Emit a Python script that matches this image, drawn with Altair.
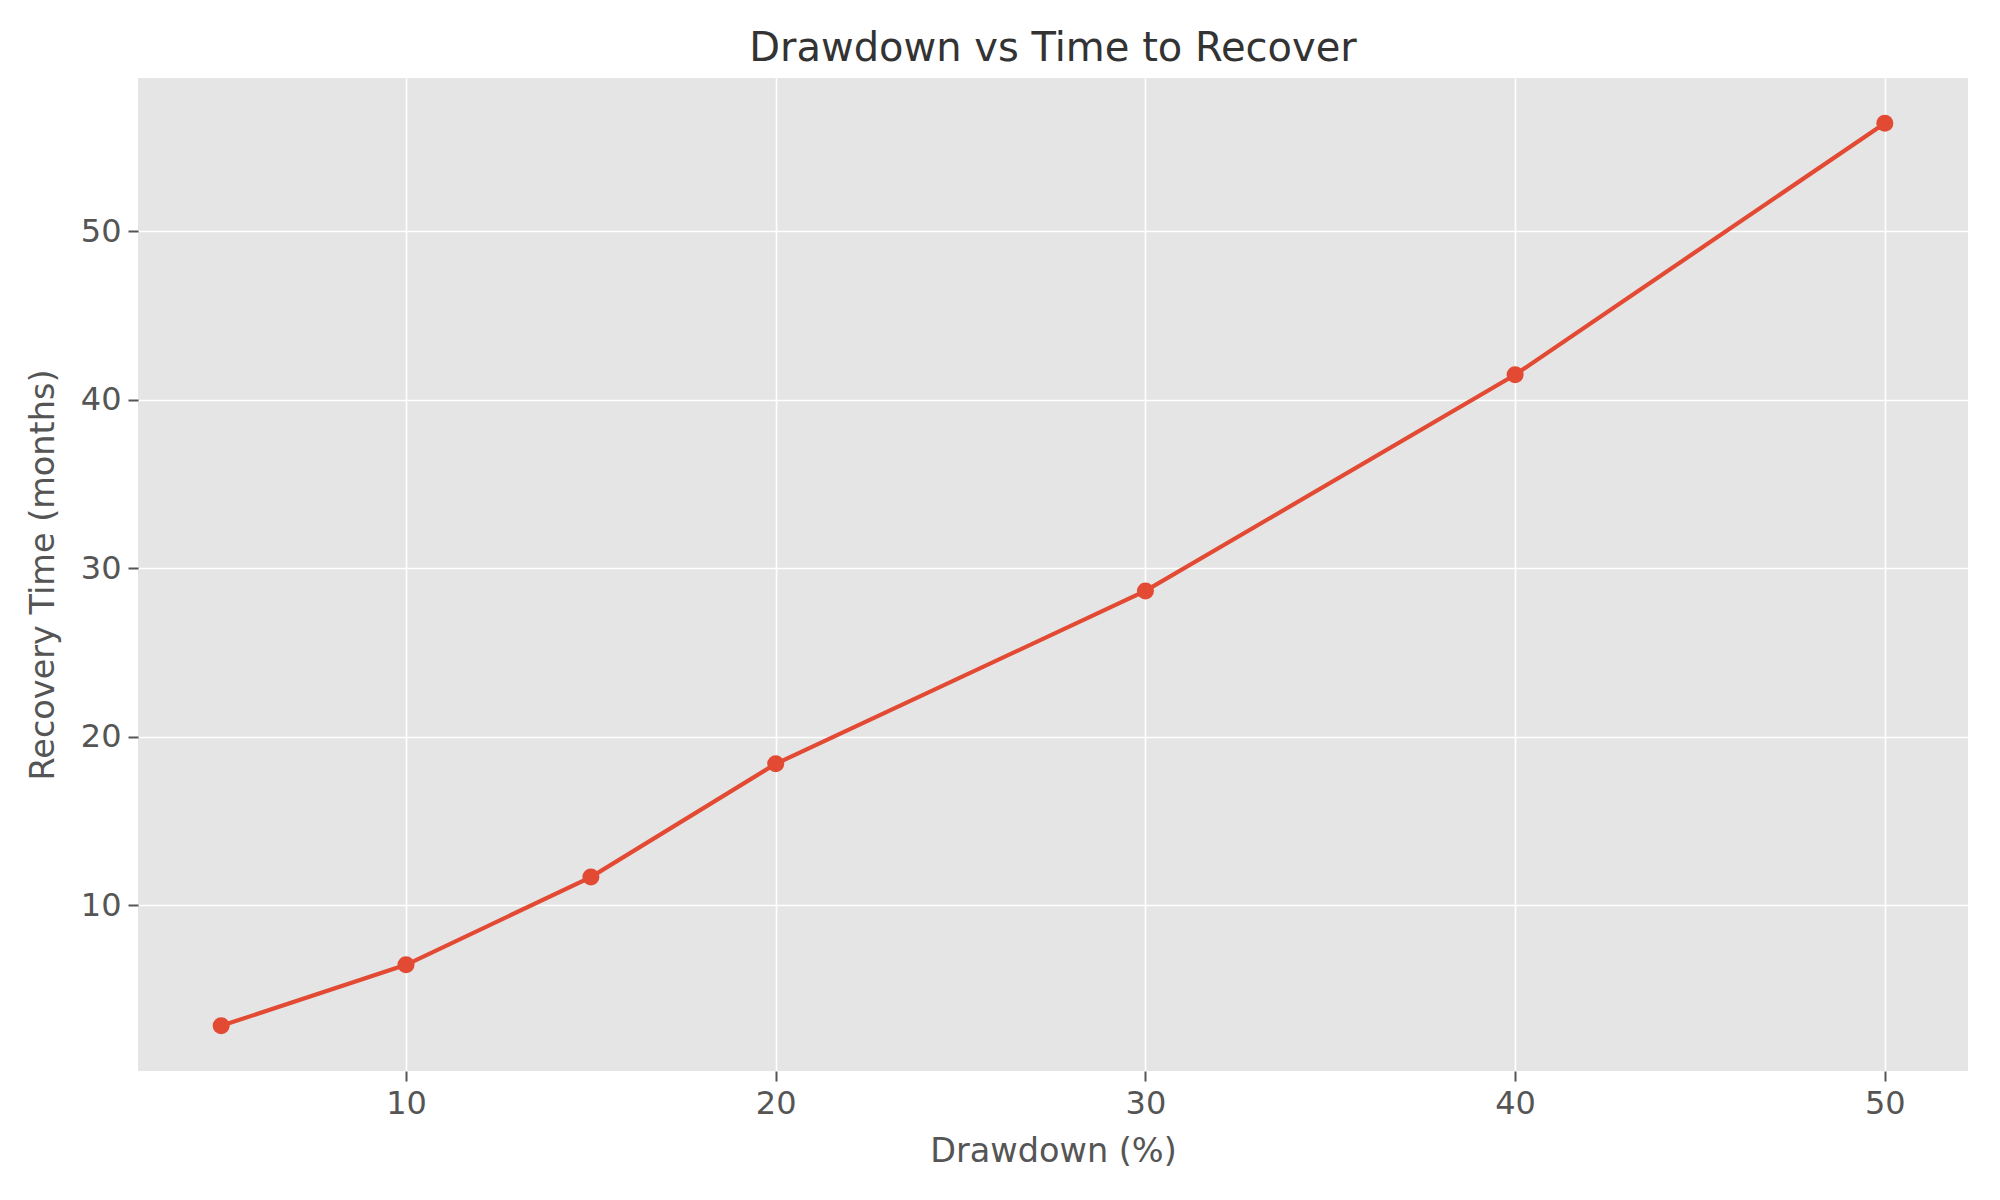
import altair as alt
import pandas as pd

drawdown = [5, 10, 15, 20, 30, 40, 50]
recovery = [2.83, 6.45, 11.66, 18.38, 28.64, 41.47, 56.4]
x_ticks = [10, 20, 30, 40, 50]
y_ticks = [10, 20, 30, 40, 50]

df = pd.DataFrame({"Drawdown": drawdown, "Recovery": recovery})

FONT = "DejaVu Sans"
LINE_COLOR = "#E24A33"

x_enc = alt.X(
    "Drawdown:Q",
    scale=alt.Scale(domain=[2.75, 52.25], nice=False, zero=False),
    axis=alt.Axis(title="Drawdown (%)", values=x_ticks, format="d"),
)
y_enc = alt.Y(
    "Recovery:Q",
    scale=alt.Scale(domain=[0.15, 59.08], nice=False, zero=False),
    axis=alt.Axis(title="Recovery Time (months)", values=y_ticks, format="d"),
)

base = alt.Chart(df)
line = base.mark_line(color=LINE_COLOR, strokeWidth=4.2).encode(x=x_enc, y=y_enc)
pts = base.mark_circle(color=LINE_COLOR, size=290, opacity=1).encode(x=x_enc, y=y_enc)

chart = (
    alt.layer(line, pts)
    .properties(
        width=1830,
        height=993,
        title=alt.TitleParams(
            "Drawdown vs Time to Recover",
            font=FONT,
            fontSize=40,
            fontWeight="normal",
            color="#333333",
            anchor="middle",
            offset=9,
        ),
        autosize=alt.AutoSizeParams(type="none"),
        padding={"left": 130, "top": 70, "right": 24, "bottom": 100},
    )
    .configure_view(fill="#E5E5E5", stroke=None)
    .configure_axis(
        labelFont=FONT,
        labelFontSize=32,
        labelColor="#555555",
        titleFont=FONT,
        titleFontSize=33.5,
        titleFontWeight="normal",
        titleColor="#555555",
        tickColor="#555555",
        tickSize=10,
        tickWidth=2,
        domain=False,
        grid=True,
        gridColor="#FFFFFF",
        gridWidth=1.6,
        labelPadding=7,
    )
    .configure_axisX(titlePadding=16)
    .configure_axisY(titlePadding=20)
)

chart.save("out.html", embed_options={"renderer": "svg", "actions": False})
